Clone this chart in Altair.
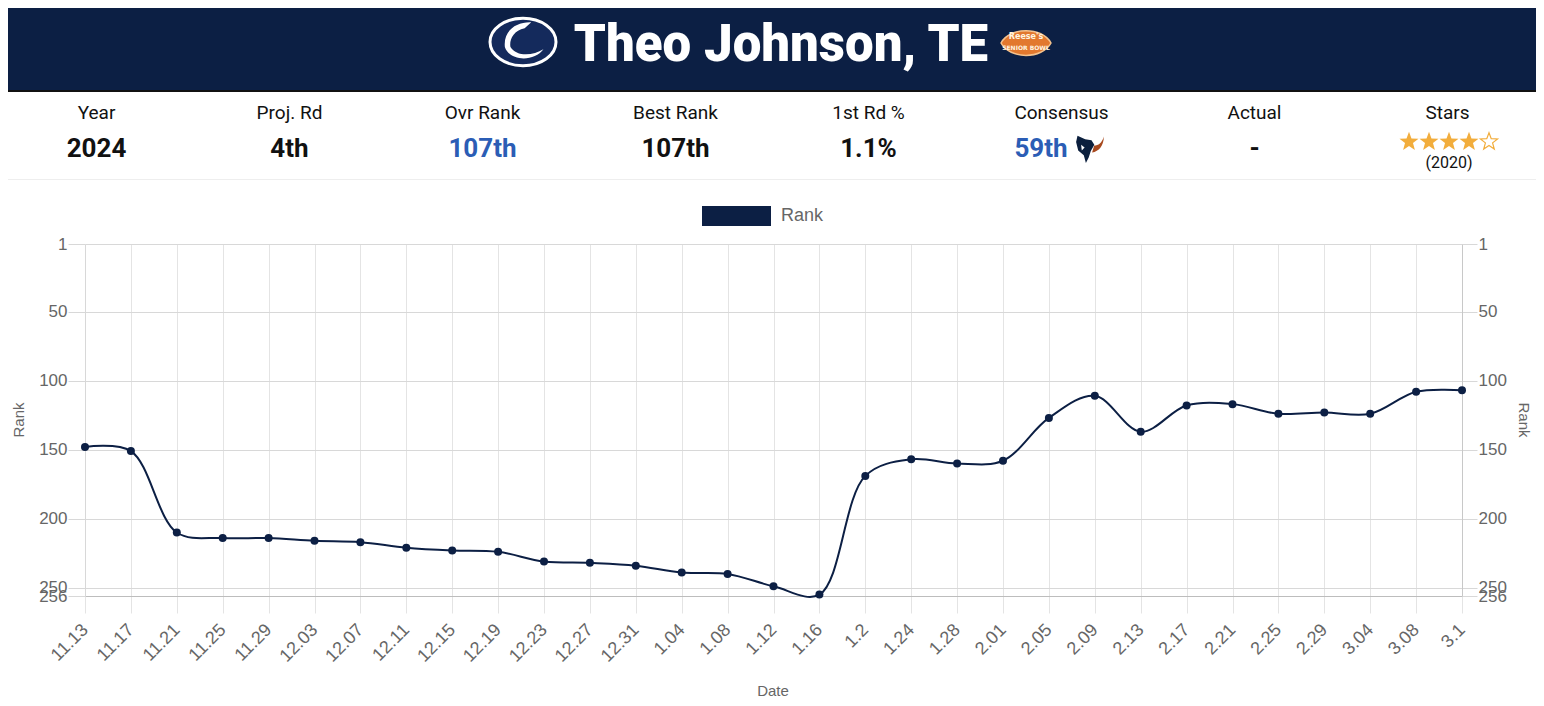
import math
import altair as alt
import pandas as pd

# ---------------- data ----------------
dates = ["11.13", "11.17", "11.21", "11.25", "11.29", "12.03", "12.07", "12.11",
         "12.15", "12.19", "12.23", "12.27", "12.31", "1.04", "1.08", "1.12",
         "1.16", "1.2", "1.24", "1.28", "2.01", "2.05", "2.09", "2.13", "2.17",
         "2.21", "2.25", "2.29", "3.04", "3.08", "3.1"]
ranks = [148, 151, 210, 214, 214, 216, 217, 221, 223, 224, 231, 232, 234, 239,
         240, 249, 255, 169, 157, 160, 158, 127, 111, 137, 118, 117, 124, 123,
         124, 108, 107]
y_ticks = [1, 50, 100, 150, 200, 250, 256]

player_name = "Theo Johnson, TE"
stat_labels = ["Year", "Proj. Rd", "Ovr Rank", "Best Rank", "1st Rd %", "Consensus", "Actual", "Stars"]
stat_values = ["2024", "4th", "107th", "107th", "1.1%", "59th", "-", ""]
stat_blue = [False, False, True, False, False, True, False, False]
stars_filled = 4
stars_total = 5
stars_year = "(2020)"
series_name = "Rank"

df = pd.DataFrame({"date": dates, "rank": ranks})
one = pd.DataFrame({"a": [0]})

NAVY = "#0c1f44"
BLUE = "#2b5db5"
GRAY = "#666666"
STAR = "#f2ad3c"
W, H = 1377, 352


def P(xp, yp):
    # page coordinates -> plot coordinates
    return xp - 85, yp - 244


def txt(text, xp, yp, size, color, weight="normal", font="Roboto",
        align="center", baseline="alphabetic", angle=0):
    x, y = P(xp, yp)
    return alt.Chart(one).mark_text(
        text=text, fontSize=size, color=color, fontWeight=weight, font=font,
        align=align, baseline=baseline, angle=angle
    ).encode(x=alt.value(x), y=alt.value(y))


def rect(x1p, y1p, x2p, y2p, color):
    x1, y1 = P(x1p, y1p)
    x2, y2 = P(x2p, y2p)
    return alt.Chart(one).mark_rect(color=color).encode(
        x=alt.value(x1), x2=alt.value(x2), y=alt.value(y1), y2=alt.value(y2))


def shape(path, xp, yp, width, fill, stroke=None, sw=0, filled=True):
    x, y = P(xp, yp)
    kw = dict(shape=path, size=width * width, opacity=1)
    if filled:
        kw.update(filled=True, fill=fill, fillOpacity=1)
    else:
        kw.update(filled=False, fill="white", fillOpacity=1)
    if stroke:
        kw["stroke"] = stroke
        kw["strokeWidth"] = sw
    else:
        kw["strokeWidth"] = 0
    return alt.Chart(one).mark_point(**kw).encode(x=alt.value(x), y=alt.value(y))


def ellipse_path(r):
    k = 0.5523
    return (f"M -1 0 C -1 {-r*k} {-k} {-r} 0 {-r} C {k} {-r} 1 {-r*k} 1 0 "
            f"C 1 {r*k} {k} {r} 0 {r} C {-k} {r} -1 {r*k} -1 0 Z")


def star_path(inner=0.42):
    pts = []
    for k in range(10):
        ang = math.radians(-90 + 36 * k)
        rr = 1.0 if k % 2 == 0 else inner
        pts.append(f"{rr*math.cos(ang):.3f} {rr*math.sin(ang)+0.08:.3f}")
    return "M " + " L ".join(pts) + " Z"


layers = []

# ---------------- header ----------------
layers.append(rect(8, 8, 1536, 90, NAVY))
layers.append(rect(8, 90, 1536, 92, "#111111"))
layers.append(txt(player_name, 781, 61, 51, "white", weight=900))
# Penn State style logo
layers.append(shape(ellipse_path(0.72), 523, 42, 66, "#142a5c", stroke="white", sw=3))
lion = ("M -0.55 0.15 C -0.6 -0.35 -0.2 -0.62 0.25 -0.6 L 0.05 -0.42 "
        "C -0.3 -0.35 -0.42 -0.05 -0.38 0.15 C -0.2 0.45 0.3 0.42 0.62 0.22 "
        "C 0.35 0.6 -0.4 0.6 -0.55 0.15 Z")
layers.append(shape(lion, 523, 42, 66, "white"))
# Senior Bowl style logo
football = "M -1 0 C -0.65 -0.66 0.65 -0.66 1 0 C 0.65 0.66 -0.65 0.66 -1 0 Z"
layers.append(shape(football, 1026, 43, 50, "#e2782e", stroke="#f4c28e", sw=1.5))
layers.append(txt("Reese's", 1026, 39, 8, "#fff4e0", weight="bold", font="DejaVu Sans"))
layers.append(txt("SENIOR BOWL", 1026, 50, 6, "#fff4e0", weight="bold", font="DejaVu Sans"))

# ---------------- stats row ----------------
for i, lab in enumerate(stat_labels):
    cx = 96.5 + 193 * i
    layers.append(txt(lab, cx, 119, 19, "#111111"))
    val = stat_values[i]
    if val:
        col = BLUE if stat_blue[i] else "#111111"
        vx = 1041 if lab == "Consensus" else cx
        layers.append(txt(val, vx, 157, 26, col, weight="bold"))

# Texans style logo
texans_head = ("M -0.75 -0.95 L -0.2 -0.7 L 0.25 -0.62 L 0.45 -0.3 L 0.2 0.15 "
               "L 0.05 0.6 L -0.15 1 L -0.3 0.45 L -0.7 0.1 L -0.85 -0.5 Z")
texans_horn = ("M 0.3 -0.25 C 0.6 -0.25 0.85 -0.45 1 -0.9 C 0.95 -0.2 0.65 0.15 "
               "0.15 0.25 Z")
layers.append(shape(texans_head, 1088, 149, 28, "#0b1f3d"))
layers.append(shape(texans_horn, 1090, 149, 28, "#a84a1f"))
layers.append(shape("M -0.35 -0.3 L -0.1 -0.1 L -0.3 0.1 Z", 1086, 149, 28, "white"))

# stars
sp = star_path()
for s in range(stars_total):
    sx = 1409 + 20 * s
    if s < stars_filled:
        layers.append(shape(sp, sx, 141, 20, STAR))
    else:
        layers.append(shape(sp, sx, 141, 18, STAR, stroke=STAR, sw=1.2, filled=False))
layers.append(txt(stars_year, 1449, 168, 16, "#111111"))

layers.append(rect(8, 179, 1536, 180, "#eeeeee"))

# ---------------- legend ----------------
layers.append(rect(702, 206, 771, 226, NAVY))
layers.append(txt(series_name, 781, 216, 18, GRAY, font="Liberation Sans",
                  align="left", baseline="middle"))

# axis titles
layers.append(txt("Date", 773, 691, 15, GRAY, font="Liberation Sans", baseline="middle"))
layers.append(txt("Rank", 19, 420, 15, GRAY, font="Liberation Sans", baseline="middle", angle=270))
layers.append(txt("Rank", 1524, 420, 15, GRAY, font="Liberation Sans", baseline="middle", angle=90))

# ---------------- chart ----------------
xenc = alt.X("date:N", sort=dates, scale=alt.Scale(type="point", padding=0),
             axis=alt.Axis(title=None, labelAngle=-45, labelAlign="right",
                           labelBaseline="middle", labelFontSize=18,
                           labelColor=GRAY, labelFont="Liberation Sans",
                           labelOverlap=False, ticks=True, tickSize=17,
                           tickColor="#e4e4e4", labelPadding=14, grid=True,
                           gridColor="#e4e4e4", domainColor="#bdbdbd"))
yscale = alt.Scale(domain=[1, 256], reverse=True, nice=False, zero=False)

line = alt.Chart(df).mark_line(interpolate="catmull-rom", color=NAVY, strokeWidth=2).encode(
    x=xenc,
    y=alt.Y("rank:Q", scale=yscale,
            axis=alt.Axis(title=None, values=y_ticks, labelFontSize=17, labelColor=GRAY,
                          labelFont="Liberation Sans", labelOverlap=False, labelFlush=False,
                          ticks=True, tickSize=17, tickColor="#d8d8d8", labelPadding=1,
                          grid=True, gridColor="#d8d8d8", domainColor="#d8d8d8",
                          orient="left")),
)
pts = alt.Chart(df).mark_point(filled=True, color=NAVY, size=64, opacity=1).encode(
    x=xenc,
    y=alt.Y("rank:Q", scale=yscale,
            axis=alt.Axis(title=None, values=y_ticks, labelFontSize=17, labelColor=GRAY,
                          labelFont="Liberation Sans", labelOverlap=False, labelFlush=False,
                          ticks=True, tickSize=15, tickColor="#d8d8d8", labelPadding=1,
                          grid=False, domainColor="#c8c8c8", orient="right")),
)

chart = alt.layer(line, pts, *layers).resolve_scale(y="independent").properties(
    width=W, height=H,
    autosize=alt.AutoSizeParams(type="none"),
    padding={"left": 77, "top": 236, "right": 74, "bottom": 102},
    background="white",
).configure_view(stroke=None)

chart.save("out.html", embed_options={"renderer": "svg", "actions": False})
